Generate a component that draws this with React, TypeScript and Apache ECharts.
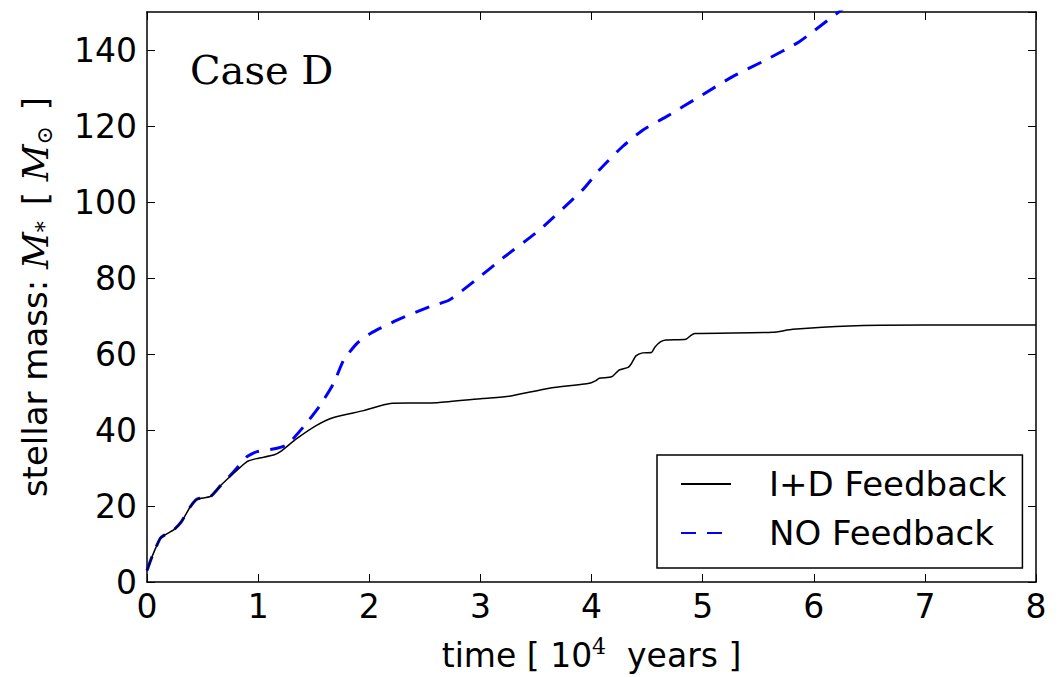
import React, { useEffect, useRef } from "react";
import * as echarts from "echarts";

// time in units of 10^4 years
const timeID = [0, 0.03, 0.07, 0.12, 0.16, 0.24, 0.31, 0.39, 0.45, 0.57, 0.66, 0.78, 0.9, 0.99, 1.14, 1.2, 1.35, 1.53, 1.68, 1.95, 2.19, 2.4, 2.61, 3.02, 3.26, 3.62, 3.98, 4.04, 4.07, 4.18, 4.22, 4.25, 4.33, 4.36, 4.4, 4.46, 4.54, 4.57, 4.62, 4.67, 4.85, 4.89, 4.93, 5.63, 5.81, 6.32, 7.0, 8.0];
const massID = [3.0, 5.5, 8.4, 11.5, 12.4, 13.7, 15.9, 19.8, 21.8, 22.5, 25.3, 28.6, 31.7, 32.5, 33.4, 34.3, 37.8, 41.3, 43.3, 45.1, 47.0, 47.1, 47.2, 48.3, 48.9, 51.0, 52.3, 53.0, 53.6, 54.0, 55.0, 55.8, 56.5, 57.5, 59.5, 60.3, 60.4, 61.8, 63.2, 63.7, 63.9, 64.8, 65.4, 65.7, 66.5, 67.4, 67.6, 67.6];

const timeNO = [0, 0.03, 0.07, 0.12, 0.16, 0.24, 0.31, 0.39, 0.45, 0.57, 0.66, 0.78, 0.9, 0.99, 1.17, 1.26, 1.41, 1.56, 1.68, 1.77, 1.89, 2.01, 2.25, 2.54, 2.72, 2.96, 3.2, 3.53, 3.92, 4.07, 4.28, 4.46, 4.67, 4.97, 5.27, 5.57, 5.87, 6.17, 6.5];
const massNO = [3.0, 5.5, 8.4, 11.5, 12.4, 13.7, 15.9, 19.8, 21.8, 22.5, 25.3, 29.0, 33.0, 34.3, 35.2, 36.1, 40.9, 46.6, 52.3, 58.4, 62.8, 65.4, 68.9, 72.4, 74.2, 79.5, 85.2, 92.6, 103.2, 108.4, 114.6, 118.9, 122.4, 127.7, 133.0, 137.4, 142.2, 148.8, 156.0];

const seriesNames = ["I+D Feedback", "NO Feedback"];
const caseLabel = "Case D";

const SANS = "DejaVu Sans";
const SERIF = "DejaVu Serif";

export default function App() {
  const ref = useRef<HTMLDivElement>(null);
  useEffect(() => {
    document.body.style.margin = "0";
    const chart = echarts.init(ref.current!, null, { renderer: "svg" });
    const pair = (t: number[], v: number[]) => t.map((x, i) => [x, v[i]]);
    const axisLineStyle = { show: true, onZero: false, lineStyle: { color: "#000", width: 1.5 } };
    const tickStyle = { show: true, inside: true, length: 8, lineStyle: { color: "#000", width: 1 } };
    chart.setOption({
      animation: false,
      backgroundColor: "#fff",
      grid: { left: 147, right: 25, top: 12, bottom: 95, containLabel: false },
      xAxis: [
        {
          type: "value",
          min: 0,
          max: 8,
          interval: 1,
          position: "bottom",
          axisLine: axisLineStyle,
          axisTick: tickStyle,
          splitLine: { show: false },
          axisLabel: { fontSize: 33, color: "#000", fontFamily: SANS, margin: 8 },
          name: "{t|time [ 10}{sup|4}{t|  years ]}",
          nameLocation: "middle",
          nameGap: 53,
          nameTextStyle: {
            rich: {
              t: { fontSize: 33, fontFamily: SANS, color: "#000", lineHeight: 40 },
              sup: { fontSize: 22, fontFamily: SERIF, color: "#000", verticalAlign: "top", lineHeight: 40, padding: [0, 0, 14, 0] },
            },
          },
        },
        {
          type: "value",
          min: 0,
          max: 8,
          interval: 1,
          position: "top",
          axisLine: axisLineStyle,
          axisTick: tickStyle,
          splitLine: { show: false },
          axisLabel: { show: false },
        },
      ],
      yAxis: [
        {
          type: "value",
          min: 0,
          max: 150,
          interval: 20,
          position: "left",
          axisLine: axisLineStyle,
          axisTick: tickStyle,
          splitLine: { show: false },
          axisLabel: { fontSize: 33, color: "#000", fontFamily: SANS, margin: 10, showMaxLabel: false },
          name: "{t|stellar mass: }{m|M}{sub|*}{t| [ }{m|M}{sub|⊙}{t| ]}",
          nameLocation: "middle",
          nameGap: 92,
          nameTextStyle: {
            rich: {
              t: { fontSize: 34, fontFamily: SANS, color: "#000", lineHeight: 40 },
              m: { fontSize: 36, fontFamily: SERIF, fontStyle: "italic", color: "#000", lineHeight: 40 },
              sub: { fontSize: 22, fontFamily: SERIF, color: "#000", verticalAlign: "bottom", lineHeight: 40, padding: [8, 5, 0, 0] },
            },
          },
        },
        {
          type: "value",
          min: 0,
          max: 150,
          interval: 20,
          position: "right",
          axisLine: axisLineStyle,
          axisTick: tickStyle,
          splitLine: { show: false },
          axisLabel: { show: false },
        },
      ],
      legend: {
        orient: "vertical",
        left: 657,
        top: 455,
        padding: [12, 16, 18, 23],
        itemGap: 15,
        itemWidth: 50,
        itemHeight: 14,
        borderColor: "#000",
        borderWidth: 1.5,
        borderRadius: 0,
        backgroundColor: "#fff",
        itemStyle: { opacity: 0 },
        textStyle: { fontSize: 34, fontFamily: SANS, color: "#000", padding: [0, 0, 0, 33], lineHeight: 33 },
        data: seriesNames,
      },
      graphic: [
        {
          type: "text",
          left: 190,
          top: 50,
          style: { text: caseLabel, font: `40px "${SERIF}"`, fill: "#000" },
        },
      ],
      series: [
        {
          name: seriesNames[0],
          type: "line",
          data: pair(timeID, massID),
          symbol: "none",
          smooth: 0.2,
          clip: true,
          lineStyle: { color: "#000", width: 1.5, type: "solid" },
          itemStyle: { color: "#000" },
          z: 3,
        },
        {
          name: seriesNames[1],
          type: "line",
          data: pair(timeNO, massNO),
          symbol: "none",
          smooth: 0.2,
          clip: true,
          lineStyle: { color: "#0000ff", width: 3, type: [15, 11] },
          itemStyle: { color: "#0000ff" },
          z: 2,
        },
      ],
    });
    return () => chart.dispose();
  }, []);
  return <div ref={ref} style={{ width: 1061, height: 677 }} />;
}
